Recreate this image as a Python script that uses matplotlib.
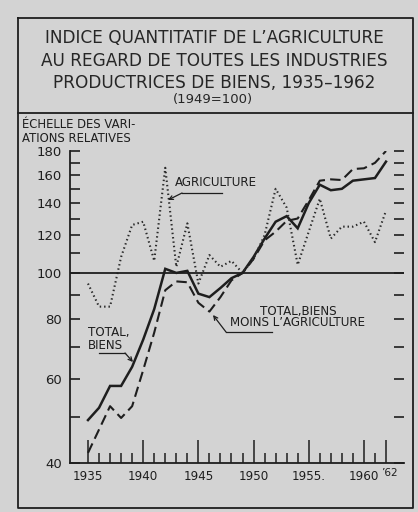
import matplotlib
matplotlib.use("Agg")
import matplotlib.pyplot as plt
import matplotlib.ticker as mticker
from matplotlib.lines import Line2D
from matplotlib.patches import FancyArrowPatch

years = list(range(1935, 1963))
agriculture = [95, 85, 85, 108, 126, 128, 106, 166, 103, 127, 95, 109, 103, 106, 100,
               107, 120, 150, 137, 104, 122, 143, 118, 125, 125, 128, 116, 135]
total_biens = [49.2, 52.2, 58, 58, 63.6, 72.5, 84, 102, 100, 101, 90.5, 89, 93, 97.5, 100,
               108, 118, 128, 131.5, 124, 140, 153, 149, 150, 156, 157, 158, 171]
total_moins_agri = [42, 47, 52.6, 49.7, 52.6, 62.6, 75, 92, 96, 95.6, 86.6, 83, 89, 96.5, 100,
                    107, 117, 122, 128.5, 130, 142, 156, 157, 156.5, 165, 165.6, 170, 180]

y_ticks = list(range(40, 190, 10))
y_labels = {40: "40", 60: "60", 80: "80", 100: "100", 120: "120", 140: "140", 160: "160", 180: "180"}
x_major = [1935, 1940, 1945, 1950, 1955, 1960, 1962]
x_major_labels = ["1935", "1940", "1945", "1950", "1955.", "1960", ""]
last_label = "\u201962"

title_lines = ["INDICE QUANTITATIF DE L\u2019AGRICULTURE",
               "AU REGARD DE TOUTES LES INDUSTRIES",
               "PRODUCTRICES DE BIENS, 1935\u20131962"]
subtitle = "(1949=100)"
scale_label = "\u00c9CHELLE DES VARI-\nATIONS RELATIVES"

W, H = 418, 512
bg = "#d3d3d3"
ink = "#1e1e1e"
plt.rcParams['font.family'] = ['DejaVu Sans']

fig = plt.figure(figsize=(W / 100, H / 100), dpi=100, facecolor=bg)

def fx(px):
    return px / W

def fy(py):
    return 1 - py / H

# frame
fig.add_artist(Line2D([fx(18), fx(413), fx(413), fx(18), fx(18)],
                      [fy(18), fy(18), fy(508), fy(508), fy(18)],
                      color=ink, lw=1.3, transform=fig.transFigure))
fig.add_artist(Line2D([fx(18), fx(413)], [fy(113), fy(113)],
                      color=ink, lw=1.3, transform=fig.transFigure))

for i, t in enumerate(title_lines):
    fig.text(fx(214), fy(38 + i * 22.5), t, ha="center", va="center",
             fontsize=12.2, color="#262626")
fig.text(fx(213), fy(99), subtitle, ha="center", va="center", fontsize=9.5, color="#262626")
fig.text(fx(22), fy(118), scale_label, ha="left", va="top", fontsize=8.4,
         color=ink, linespacing=1.1)

x0, x1 = 70, 404
yb, yt = 463, 151
ax = fig.add_axes([fx(x0), fy(yb), fx(x1 - x0), (yb - yt) / H])
ax.set_facecolor(bg)
ax.set_yscale("log")
ax.set_ylim(40, 180)
ax.set_xlim(1935 - 18 / 11.04, 1962 + 18 / 11.04)

ax.plot(years, total_biens, color=ink, lw=1.8, solid_joinstyle="miter")
ax.plot(years, total_moins_agri, color=ink, lw=1.5, dashes=(5, 2.5))
ax.plot(years, agriculture, color="#2a2a2a", lw=1.5, dashes=(0.7, 1.4))
ax.axhline(100, color=ink, lw=1.3)

for s in ["top", "right"]:
    ax.spines[s].set_visible(False)
for s in ["left", "bottom"]:
    ax.spines[s].set_color(ink)
    ax.spines[s].set_linewidth(1.3)

ax.yaxis.set_major_locator(mticker.FixedLocator(y_ticks))
ax.yaxis.set_minor_locator(mticker.NullLocator())
ax.set_yticklabels([y_labels.get(v, "") for v in y_ticks])
ax.tick_params(axis="y", which="major", direction="in", length=7, width=1.2,
               left=True, right=True, labelsize=9.5, pad=6, colors=ink)

ax.xaxis.set_major_locator(mticker.FixedLocator(x_major))
ax.xaxis.set_minor_locator(mticker.FixedLocator(years))
ax.set_xticklabels(x_major_labels)
ax.tick_params(axis="x", which="major", direction="in", length=16.5, width=1.1,
               labelsize=8.6, pad=5, colors=ink)
ax.tick_params(axis="x", which="minor", direction="in", length=7, width=1.1, colors=ink)
ax.annotate(last_label, xy=(1962, 0), xycoords=("data", "axes fraction"),
            xytext=(-5, -5), textcoords="offset pixels", ha="left", va="top",
            fontsize=7.6, color=ink)

# annotations
arrow = dict(arrowstyle="->", color=ink, lw=0.9, shrinkA=0, shrinkB=0)
fs = 8.6
fig.text(fx(175), fy(183), "AGRICULTURE", ha="left", va="center", fontsize=fs, color=ink)
fig.add_artist(Line2D([fx(222), fx(182)], [fy(193), fy(193)], color=ink, lw=0.9,
                      transform=fig.transFigure))
fig.add_artist(FancyArrowPatch((fx(182), fy(193)), (fx(168), fy(200)),
                               transform=fig.transFigure, mutation_scale=7, **arrow))

fig.text(fx(88), fy(339), "TOTAL,\nBIENS", ha="left", va="center", fontsize=fs,
         color=ink, linespacing=1.0)
fig.add_artist(Line2D([fx(99), fx(125)], [fy(353), fy(353)], color=ink, lw=0.9,
                      transform=fig.transFigure))
fig.add_artist(FancyArrowPatch((fx(125), fy(353)), (fx(133), fy(362)),
                               transform=fig.transFigure, mutation_scale=7, **arrow))

fig.text(fx(298), fy(311), "TOTAL,BIENS", ha="center", va="center", fontsize=fs, color=ink)
fig.text(fx(298), fy(323), "MOINS L\u2019AGRICULTURE", ha="center", va="center",
         fontsize=fs, color=ink)
fig.add_artist(Line2D([fx(272), fx(226)], [fy(332), fy(332)], color=ink, lw=0.9,
                      transform=fig.transFigure))
fig.add_artist(FancyArrowPatch((fx(226), fy(332)), (fx(213), fy(315)),
                               transform=fig.transFigure, mutation_scale=7, **arrow))

fig.savefig("out.png", dpi=100, facecolor=bg)
